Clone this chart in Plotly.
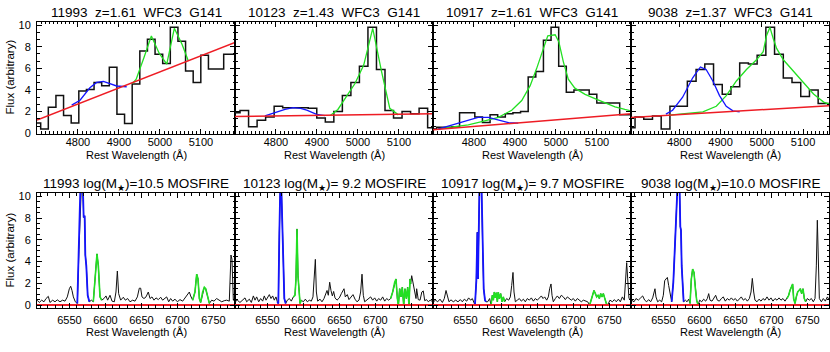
import plotly.graph_objects as go

W, H = 830, 352
FONT = "Liberation Sans, Arial, Helvetica, sans-serif"
NB = "\u00a0"

# ---------------- titles ----------------
grism_titles = ["11993  z=1.61  WFC3  G141", "10123  z=1.43  WFC3  G141",
                "10917  z=1.61  WFC3  G141", "9038  z=1.37  WFC3  G141"]
mosfire_titles = ["11993 log(M<sub>★</sub>)=10.5 MOSFIRE", "10123 log(M<sub>★</sub>)= 9.2 MOSFIRE",
                  "10917 log(M<sub>★</sub>)= 9.7 MOSFIRE", "9038 log(M<sub>★</sub>)=10.0 MOSFIRE"]
x_title = "Rest Wavelength (Å)"
y_title = "Flux (arbitrary)"

# ---------------- WFC3 G141 panels (top row) ----------------
grism_xrange = [[4700, 5183], [4700, 5183], [4700, 5183], [4683, 5163]]
grism_xticks = [4800, 4900, 5000, 5100]

g1_edges = [4690.4, 4709.0, 4727.6, 4746.2, 4764.8, 4783.4, 4802.0, 4820.6, 4839.2, 4857.8,
            4876.4, 4895.0, 4913.6, 4932.2, 4950.8, 4969.4, 4988.0, 5006.6, 5025.2, 5043.8,
            5062.4, 5081.0, 5099.6, 5118.2, 5136.8, 5155.4, 5174.0, 5192.6]
g1_flux = [0.95, 0.4, 2.4, 3.5, 1.65, 0.95, 3.9, 4.05, 4.7, 4.4, 6.1, 1.75, 0.9, 4.55, 7.6,
           8.7, 7.3, 6.45, 9.8, 8.5, 5.75, 4.7, 7.2, 5.95, 5.95, 7.3, 7.3]
g1_cont_wave = [4700, 5183]
g1_cont_flux = [1.23, 8.4]
g1_hb_wave = [4784.6, 4805, 4829, 4845.5, 4862, 4878, 4894.3, 4918.7]
g1_hb_flux = [2.6, 3.05, 4.2, 4.7, 4.8, 4.55, 4.37, 4.3]
g1_o3_wave = [4933, 4942, 4961, 4979, 4998, 5016.5, 5035, 5054, 5069]
g1_o3_flux = [4.6, 5.0, 7.0, 9.0, 7.4, 6.4, 9.7, 8.2, 6.7]

g2_edges = [4691.5, 4712.3, 4733.1, 4753.9, 4774.7, 4795.5, 4816.3, 4837.1, 4857.9, 4878.7,
            4899.5, 4920.3, 4941.1, 4961.9, 4982.7, 5003.5, 5024.3, 5045.1, 5065.9, 5086.7,
            5107.5, 5128.3, 5149.1, 5169.9, 5190.7]
g2_flux = [1.9, 2.1, 0.6, 1.2, 1.5, 2.5, 2.35, 2.35, 2.35, 2.3, 1.4, 1.05, 2.0, 3.5, 4.7,
           6.2, 9.8, 5.9, 2.1, 1.4, 2.0, 1.8, 2.3, 0.5]
g2_cont_wave = [4700, 5183]
g2_cont_flux = [1.55, 1.8]
g2_hb_wave = [4773, 4801.6, 4822, 4842, 4860, 4875, 4899, 4919.5]
g2_hb_flux = [1.6, 1.95, 2.2, 2.37, 2.3, 2.13, 1.74, 1.62]
g2_o3_wave = [4932.5, 4951, 4972, 4992.7, 5014, 5036, 5057, 5077.6, 5098.4]
g2_o3_flux = [1.65, 2.2, 3.4, 4.6, 6.3, 9.7, 5.8, 2.3, 1.7]

g3_edges = g1_edges
g3_flux = [0.4, 0.55, 0.55, 0.6, 1.9, 1.9, 1.5, 1.0, 1.7, 1.5, 1.8, 1.9, 2.0, 5.2, 5.7,
           8.6, 9.8, 6.2, 3.8, 4.0, 4.0, 3.6, 2.8, 2.8, 2.8, 1.7, 1.7]
g3_cont_wave = [4700, 5183]
g3_cont_flux = [0.33, 1.8]
g3_hb_wave = [4712, 4745.5, 4786, 4810, 4835, 4859, 4884, 4908]
g3_hb_flux = [0.39, 0.75, 1.23, 1.47, 1.47, 1.23, 0.99, 0.93]
g3_o3_wave = [4712, 4786, 4819, 4859.5, 4892, 4916.5, 4937, 4953, 4969.5, 4980, 4998, 5007,
              5018, 5030, 5046, 5071, 5095, 5119.5, 5144, 5168, 5183]
g3_o3_flux = [0.4, 0.78, 1.08, 1.47, 2.13, 3.03, 4.4, 6.0, 7.85, 9.0, 9.1, 8.45, 6.6, 5.0,
              4.17, 3.6, 3.2, 2.8, 2.43, 2.2, 2.07]

g4_edges = [4671.7, 4692.8, 4713.9, 4735.1, 4756.2, 4777.4, 4798.5, 4819.6, 4840.8, 4861.9,
            4883.1, 4904.2, 4925.3, 4946.5, 4967.6, 4988.8, 5009.9, 5031.0, 5052.2, 5073.3,
            5094.5, 5115.6, 5136.7, 5157.9, 5179.0]
g4_flux = [0.5, 1.5, 1.3, 1.6, 0.4, 2.5, 2.5, 4.8, 5.9, 6.4, 4.5, 3.6, 4.3, 6.5, 6.4, 7.2,
           9.8, 7.3, 5.1, 4.7, 3.4, 4.0, 2.75, 2.75]
g4_cont_wave = [4683, 5163]
g4_cont_flux = [1.45, 2.55]
g4_hb_wave = [4767.6, 4783.8, 4808.2, 4832.6, 4851.3, 4865.1, 4881.4, 4897.6, 4913.9, 4930.1, 4946.4]
g4_hb_flux = [1.77, 2.13, 3.33, 5.13, 6.13, 5.89, 4.83, 3.48, 2.49, 2.07, 1.98]
g4_o3_wave = [4775.8, 4816.5, 4857.2, 4889.7, 4914, 4938.5, 4962.9, 4987.3, 5003.5, 5011.7,
              5019.8, 5028, 5036, 5052.3, 5076.7, 5101, 5125.5, 5150, 5166]
g4_o3_flux = [1.68, 1.83, 1.98, 2.49, 3.48, 4.83, 5.89, 6.79, 7.54, 9.04, 9.79, 8.74, 7.84,
              6.79, 5.74, 4.68, 3.63, 2.88, 2.67]

grism = [
    (g1_edges, g1_flux, g1_cont_wave, g1_cont_flux, g1_hb_wave, g1_hb_flux, g1_o3_wave, g1_o3_flux),
    (g2_edges, g2_flux, g2_cont_wave, g2_cont_flux, g2_hb_wave, g2_hb_flux, g2_o3_wave, g2_o3_flux),
    (g3_edges, g3_flux, g3_cont_wave, g3_cont_flux, g3_hb_wave, g3_hb_flux, g3_o3_wave, g3_o3_flux),
    (g4_edges, g4_flux, g4_cont_wave, g4_cont_flux, g4_hb_wave, g4_hb_flux, g4_o3_wave, g4_o3_flux),
]

# ---------------- MOSFIRE panels (bottom row) ----------------
mos_xrange = [6505, 6780]
mos_cont = [0.0, 0.0, 0.0, 0.0]

m1_wave = [6505, 6508.2, 6511.5, 6514.7, 6517.5, 6520.7, 6523, 6526.8, 6530, 6533.2, 6536.9, 6540.6,
           6543.9, 6547.1, 6549.9, 6551.8, 6553.6, 6555.5, 6558.2, 6561, 6563.3, 6565.2, 6567,
           6568.9, 6569.8, 6571.2, 6572.1, 6573.5, 6575.4, 6577.7, 6580.5, 6583.2, 6586, 6588.3,
           6590.2, 6592.5, 6594.8, 6598, 6600.8, 6603.1, 6606.4, 6609.2, 6612.4, 6614.7, 6616.6,
           6618.4, 6621.2, 6624.9, 6627.7, 6630.9, 6634.2, 6637.9, 6641.1, 6644.4, 6647.1, 6649,
           6650.8, 6653.6, 6656.4, 6659.6, 6662, 6664.7, 6667.5, 6670.3, 6673.5, 6676.8, 6679.5,
           6682.8, 6685.1, 6687.9, 6690.6, 6693.4, 6696.7, 6699.9, 6703.6, 6707.3, 6710.6, 6713.8,
           6716.6, 6718.4, 6721.2, 6724.4, 6726.8, 6728.6, 6730.5, 6732.3, 6735.1, 6737.4, 6739.3,
           6741.6, 6744.4, 6747.6, 6750.8, 6754.5, 6758.2, 6761.5, 6765, 6768.5, 6772.1, 6774.4,
           6775.8, 6777.7, 6780]
m1_flux = [0.45, 0.24, 0.45, 0.3, 0.6, 0.8, 0.24, 0.45, 0.3, 0.48, 0.3, 0.45,
           0.36, 0.75, 1.5, 1.73, 1.34, 0.75, 0.3, 0.15, 5.1, 10.7, 11.6,
           10.4, 8.06, 8.2, 4.6, 3.6, 0.9, 0.3, 0.45, 0.3, 2.7, 4.7,
           3.6, 0.75, 0.45, 0.6, 0.84, 0.45, 0.9, 0.36, 0.3, 1.2, 3.13,
           1.05, 0.45, 0.72, 0.45, 0.6, 0.3, 0.45, 0.36, 0.75, 1.55, 1.55,
           0.75, 0.6, 0.75, 1.2, 0.6, 0.75, 0.45, 0.66, 0.5, 0.72, 0.45,
           0.6, 0.75, 0.3, 0.6, 0.36, 0.54, 0.3, 0.5, 0.36, 0.66, 0.84,
           1.2, 0.84, 0.45, 1.2, 2.84, 2.4, 0.6, 0.24, 1.2, 1.64, 1.5,
           0.75, 0.15, 0.45, 0.36, 0.6, 0.45, 0.3, 0.4, 0.45, 0.36, 4.6,
           4.2, 0.45, 0.36]
m1_blue = [(6561, 6577.7)]
m1_green = [(6583.2, 6594.8), (6721.2, 6744.4)]

m2_wave = [6505, 6508.2, 6511.9, 6515.2, 6518.9, 6521.2, 6524.9, 6527.7, 6530.5, 6532.8, 6535.1,
           6537.9, 6540.6, 6543.4, 6545.7, 6548.1, 6550.4, 6552.7, 6555, 6557.3, 6559.6, 6561.9,
           6563.8, 6565.2, 6566.6, 6568, 6569.4, 6570.7, 6572.1, 6573.5, 6575.4, 6577.7, 6580.5,
           6583.2, 6586, 6588.3, 6589.7, 6591.1, 6592.5, 6593.9, 6595.3, 6597.1, 6599.9, 6602.7,
           6605.5, 6608.2, 6611, 6613.3, 6615.2, 6616.6, 6618, 6619.8, 6623.1, 6625.8, 6628.6,
           6630.9, 6632.8, 6634.6, 6636.5, 6638.3, 6640.2, 6642, 6643.9, 6646.7, 6649.9, 6652.7,
           6654.5, 6656.4, 6658.2, 6661, 6663.3, 6666.1, 6668.9, 6671.7, 6674.4, 6677.2, 6679.5,
           6681.4, 6683.2, 6685.1, 6687.9, 6690.6, 6693.4, 6696.2, 6699, 6701.8, 6704.5, 6707.3,
           6710.1, 6712.9, 6715.6, 6718.4, 6721.2, 6724, 6726.8, 6728.6, 6730.5, 6731.9, 6733.7,
           6735.6, 6737.4, 6739.3, 6741.1, 6743, 6744.8, 6746.7, 6748.1, 6749, 6750.4, 6752.2,
           6754.1, 6756.4, 6757.3, 6759.5, 6762, 6764.5, 6766.5, 6768.5, 6771, 6773.5, 6776, 6780]
m2_flux = [0.3, 0.45, 0.24, 0.45, 0.66, 0.3, 0.54, 0.24, 0.84, 0.45, 0.75,
           0.3, 0.6, 0.36, 0.84, 0.45, 0.75, 0.96, 0.6, 0.84, 0.45, 0.75,
           0.3, 0.15, 6.6, 11.3, 10.7, 6.6, 2.7, 0.6, 0.15, 0.45, 0.6,
           0.36, 0.75, 0.9, 2.4, 7.0, 2.7, 0.75, 0.15, 0.45, 0.3, 0.54,
           0.3, 0.45, 0.36, 0.75, 2.7, 4.2, 1.2, 0.36, 0.54, 0.3, 0.6,
           1.05, 1.34, 0.9, 2.1, 1.34, 0.84, 1.25, 0.66, 0.45, 0.66, 1.05,
           1.25, 1.5, 0.75, 0.96, 0.5, 0.75, 0.96, 0.54, 0.3, 0.45, 1.2,
           2.84, 0.9, 0.3, 0.45, 0.6, 0.75, 0.45, 0.66, 0.36, 0.6, 0.45,
           0.75, 0.36, 0.6, 0.45, 0.6, 1.2, 2.1, 2.4, 0.6, 0.0, 1.5,
           0.75, 1.64, 0.0, 1.5, 0.6, 1.64, 0.0, 2.4, 1.94, 2.7, 1.94,
           1.43, 0.6, 1.5, 0.5, 0.45, 1.2, 1.3, 0.4, 0.5, 0.3, 0.45, 0.3]
m2_blue = [(6563.8, 6575.4)]
m2_green = [(6586, 6597.1), (6721.2, 6749)]

m3_wave = [6505.5, 6508.7, 6511.5, 6514.7, 6518, 6520.7, 6523.1, 6524.9, 6527.2, 6530, 6533.2,
           6536.5, 6539.7, 6543, 6545.7, 6548.5, 6551.8, 6554.5, 6557.3, 6559.6, 6561.9, 6563.3,
           6565.2, 6566.6, 6567.5, 6569.4, 6570.7, 6572.6, 6574, 6575.4, 6577.2, 6578.6, 6580.9,
           6583.7, 6585.6, 6587.4, 6588.8, 6590.2, 6591.6, 6593, 6594.4, 6595.7, 6597.1, 6599,
           6600.8, 6602.7, 6604.5, 6607.3, 6610.1, 6612.4, 6614.3, 6616.1, 6617.5, 6619.4, 6622.1,
           6624.9, 6627.7, 6630.5, 6633.2, 6636, 6638.8, 6641.6, 6644.4, 6647.1, 6649.9, 6652.7,
           6655.5, 6657.8, 6660.1, 6662.9, 6665.2, 6667, 6668.9, 6670.3, 6672.1, 6674.9, 6677.7,
           6680.5, 6683.2, 6686, 6688.8, 6691.6, 6694.4, 6697.1, 6699.9, 6702.7, 6705.5, 6708.2,
           6711, 6713.8, 6716.6, 6719.8, 6722.6, 6724.9, 6726.8, 6728.6, 6730.5, 6732.3, 6734.2,
           6736, 6737.9, 6739.7, 6741.6, 6743.4, 6745.7, 6747.6, 6750.8, 6754.1, 6756.9, 6759.6,
           6762.4, 6765.2, 6768, 6770.7, 6772.6, 6774, 6775.4, 6777.2, 6780]
m3_flux = [0.3, 0.45, 0.3, 0.54, 0.24, 0.6, 1.34, 0.75, 0.3, 0.48, 0.3,
           0.45, 0.3, 0.5, 0.3, 0.54, 0.36, 0.66, 0.45, 0.6, 0.24, 0.0,
           2.24, 6.7, 2.4, 10.3, 11.3, 10.3, 5.1, 1.5, 0.45, 0.3, 0.3,
           0.6, 0.0, 0.9, 0.45, 1.2, 0.66, 1.13, 0.3, 1.2, 0.6, 1.05,
           0.3, 0.75, 0.3, 0.6, 0.45, 0.75, 1.8, 3.0, 1.2, 0.3, 0.45,
           0.6, 0.36, 0.54, 0.3, 0.6, 0.45, 0.66, 0.36, 0.6, 0.45, 0.66,
           0.84, 0.6, 0.75, 0.45, 0.75, 1.5, 1.94, 0.9, 0.3, 0.6, 0.84,
           0.6, 0.9, 0.75, 0.5, 0.75, 0.6, 0.45, 0.6, 0.36, 0.6, 0.45,
           0.3, 0.45, 0.36, 0.3, 0.0, 0.6, 1.05, 1.34, 1.05, 0.75, 0.9,
           0.6, 1.05, 0.75, 1.05, 0.6, 0.15, 0.0, 0.45, 0.3, 0.5, 0.3,
           0.54, 0.3, 0.75, 0.45, 2.7, 3.9, 2.4, 0.6, 0.45]
m3_blue = [(6563.3, 6578.6)]
m3_green = [(6585.6, 6604.5), (6722.6, 6747.6)]

m4_wave = [6505.9, 6509.2, 6511.9, 6515.2, 6518.4, 6521.2, 6524, 6526.8, 6529.5, 6532.3, 6535.1,
           6536.9, 6538.3, 6539.7, 6542, 6544.8, 6547.6, 6549.9, 6551.8, 6553.6, 6555.5, 6557.3,
           6559.2, 6561.5, 6563.8, 6565.6, 6567.5, 6569.4, 6571.2, 6572.6, 6573.5, 6574.4, 6575.4,
           6576.8, 6578.1, 6580.5, 6582.8, 6585.1, 6587, 6588.8, 6590.6, 6592.5, 6594.4, 6596.2,
           6598.1, 6600.4, 6603.1, 6605.9, 6608.7, 6611, 6612.9, 6614.7, 6617.5, 6620.3, 6622.6,
           6624.9, 6627.7, 6630.5, 6633.2, 6636, 6638.8, 6641.6, 6644.4, 6647.1, 6649.9, 6652.7,
           6655.5, 6658.2, 6661, 6663.8, 6666.6, 6669.4, 6671.7, 6673.5, 6675.4, 6677.2, 6680,
           6682.8, 6685.6, 6688.3, 6691.1, 6693.9, 6696.7, 6699.4, 6702.2, 6705, 6707.8, 6710.6,
           6713.3, 6716.1, 6718.9, 6721.7, 6724, 6725.8, 6727.7, 6729.5, 6730.9, 6732.8, 6734.6,
           6736.5, 6738.3, 6740.2, 6742, 6743.9, 6745.7, 6747.6, 6749.9, 6752.7, 6755.5, 6758.2,
           6760.6, 6762.4, 6763.8, 6765.2, 6766.6, 6769.4, 6772.1, 6774.9, 6777.7, 6780.5]
m4_flux = [0.45, 0.3, 0.6, 0.45, 0.66, 0.84, 0.45, 0.3, 0.5, 0.3, 0.66,
           1.2, 1.5, 0.75, 0.3, 0.45, 0.3, 0.9, 2.24, 2.4, 2.54, 1.8,
           1.2, 0.3, 2.1, 4.8, 8.4, 10.7, 11.3, 10.3, 7.2, 6.9, 3.6,
           1.2, 0.3, 0.45, 0.3, 0.54, 0.15, 2.4, 3.3, 3.0, 1.5, 0.45,
           0.0, 0.45, 0.3, 0.54, 0.36, 0.6, 1.05, 0.45, 0.36, 0.66, 0.9,
           0.45, 0.36, 0.6, 0.75, 0.36, 0.6, 0.45, 0.66, 0.45, 0.6, 0.36,
           0.54, 0.75, 0.45, 0.6, 0.36, 0.6, 1.2, 2.45, 1.2, 0.45, 0.3,
           0.54, 0.36, 0.6, 0.45, 0.75, 0.45, 0.66, 0.36, 0.6, 0.45, 0.66,
           0.45, 0.6, 0.36, 0.6, 0.9, 1.34, 1.64, 1.94, 0.6, 0.15, 0.75,
           1.2, 1.34, 1.5, 1.05, 1.5, 0.6, 0.3, 0.6, 0.45, 0.6, 0.3,
           0.6, 3.6, 7.8, 5.1, 0.6, 0.3, 0.6, 0.36, 0.75, 0.45]
m4_blue = [(6561.5, 6578.1)]
m4_green = [(6587, 6598.1), (6721.7, 6747.6)]

mosfire = [(m1_wave, m1_flux, m1_blue, m1_green), (m2_wave, m2_flux, m2_blue, m2_green),
           (m3_wave, m3_flux, m3_blue, m3_green), (m4_wave, m4_flux, m4_blue, m4_green)]

# ---------------- layout geometry (pixels) ----------------
col_px = [(37, 235), (235, 433), (433, 631), (631, 829)]
top_px = (19, 134)
bot_px = (195, 313)

BLACK = "#111111"
RED = "#ee1c24"
GREEN = "#22e022"
BLUE = "#1414ff"


def py(p):
    return 1 - p / H


fig = go.Figure()
layout = dict(width=W, height=H, margin=dict(l=0, r=0, t=0, b=0),
              paper_bgcolor="white", plot_bgcolor="white", showlegend=False,
              font=dict(family=FONT, color="black", size=11))
annotations = []


def axis_common():
    return dict(showline=True, mirror="allticks", linecolor="black", linewidth=1,
                ticks="inside", tickcolor="black", tickwidth=1, showgrid=False, zeroline=False,
                tickfont=dict(family=FONT, size=11, color="black"))


def segments(wave, flux, wins):
    out = []
    for lo, hi in wins:
        xs = [w for w in wave if lo <= w <= hi]
        ys = [f for w, f in zip(wave, flux) if lo <= w <= hi]
        out.append((xs, ys))
    return out


for i in range(8):
    n = i + 1
    xa = "x" if n == 1 else f"x{n}"
    ya = "y" if n == 1 else f"y{n}"
    col = i % 4
    top = i < 4
    x0, x1 = col_px[col]
    p0, p1 = top_px if top else bot_px

    xax = axis_common()
    yax = axis_common()
    xax.update(domain=[x0 / W, x1 / W], anchor=ya, ticklen=5,
               ticklabelstandoff=-2 if top else 2)
    yax.update(domain=[py(p1), py(p0)], anchor=xa, ticklen=5, tick0=0, dtick=2,
               showticklabels=(col == 0), ticklabelstandoff=3)
    if top:
        xax.update(range=grism_xrange[col], tickmode="array", tickvals=grism_xticks,
                   minor=dict(ticks="inside", ticklen=2.5, dtick=10, tick0=4700,
                              tickcolor="black", tickwidth=1))
        yax.update(range=[-0.03, 10.33],
                   minor=dict(ticks="inside", ticklen=2.5, dtick=2 / 3, tick0=0,
                              tickcolor="black", tickwidth=1))
    else:
        xax.update(range=mos_xrange, tick0=6550, dtick=50,
                   minor=dict(ticks="inside", ticklen=2.5, dtick=10, tick0=6500,
                              tickcolor="black", tickwidth=1))
        yax.update(range=[-0.27, 10.3],
                   minor=dict(ticks="inside", ticklen=2.5, dtick=0.5, tick0=0,
                              tickcolor="black", tickwidth=1))
    layout["xaxis" if n == 1 else f"xaxis{n}"] = xax
    layout["yaxis" if n == 1 else f"yaxis{n}"] = yax

    if top:
        edges, flux, cw, cf, hbw, hbf, o3w, o3f = grism[col]
        fig.add_trace(go.Scatter(x=edges, y=list(flux) + [flux[-1]], mode="lines",
                                 line=dict(shape="hv", color=BLACK, width=1.5),
                                 xaxis=xa, yaxis=ya, hoverinfo="skip"))
        fig.add_trace(go.Scatter(x=o3w, y=o3f, mode="lines", line=dict(color=GREEN, width=1.3),
                                 xaxis=xa, yaxis=ya, hoverinfo="skip"))
        fig.add_trace(go.Scatter(x=hbw, y=hbf, mode="lines", line=dict(color=BLUE, width=1.3),
                                 xaxis=xa, yaxis=ya, hoverinfo="skip"))
        fig.add_trace(go.Scatter(x=cw, y=cf, mode="lines", line=dict(color=RED, width=1.5),
                                 xaxis=xa, yaxis=ya, hoverinfo="skip"))
        title = grism_titles[col]
        ty = 9.5
        xlab_y = 156
    else:
        wave, flux, bwin, gwin = mosfire[col]
        fig.add_trace(go.Scatter(x=wave, y=flux, mode="lines", line=dict(color=BLACK, width=1),
                                 xaxis=xa, yaxis=ya, hoverinfo="skip"))
        for xs, ys in segments(wave, flux, bwin):
            fig.add_trace(go.Scatter(x=xs, y=ys, mode="lines", line=dict(color=BLUE, width=1.8),
                                     xaxis=xa, yaxis=ya, hoverinfo="skip"))
        for xs, ys in segments(wave, flux, gwin):
            fig.add_trace(go.Scatter(x=xs, y=ys, mode="lines", line=dict(color=GREEN, width=1.6),
                                     xaxis=xa, yaxis=ya, hoverinfo="skip"))
        fig.add_trace(go.Scatter(x=mos_xrange, y=[mos_cont[col]] * 2, mode="lines",
                                 line=dict(color=RED, width=2),
                                 xaxis=xa, yaxis=ya, hoverinfo="skip"))
        title = mosfire_titles[col]
        ty = 186
        xlab_y = 338

    annotations.append(dict(text=title.replace(" ", NB), xref="paper", yref="paper",
                            x=(x0 + x1) / 2 / W, y=py(ty), xanchor="center", yanchor="middle",
                            showarrow=False, font=dict(family=FONT, size=13.5, color="black")))
    annotations.append(dict(text=x_title, xref="paper", yref="paper",
                            x=(x0 + x1) / 2 / W, y=py(xlab_y), xanchor="center", yanchor="middle",
                            showarrow=False, font=dict(family=FONT, size=11, color="black")))
    if col == 0:
        annotations.append(dict(text=y_title, xref="paper", yref="paper", textangle=-90,
                                x=10 / W, y=py((p0 + p1) / 2), xanchor="center", yanchor="middle",
                                showarrow=False, font=dict(family=FONT, size=11.5, color="black")))

layout["annotations"] = annotations
fig.update_layout(**layout)
fig.write_html("out.html", config={"displayModeBar": False},
               post_script="document.body.style.margin='0px';")
